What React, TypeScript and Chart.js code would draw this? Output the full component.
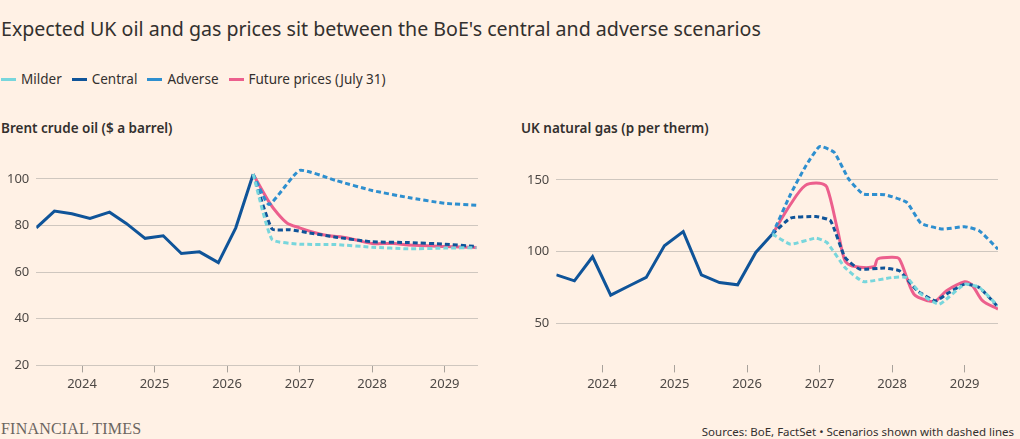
import React, { useEffect, useRef } from "react";
import { Chart, registerables } from "chart.js";
Chart.register(...registerables);

const yearTicks = [2024, 2025, 2026, 2027, 2028, 2029];

// Brent
const brentHistX = [2023.37, 2023.62, 2023.86, 2024.11, 2024.38, 2024.61, 2024.87, 2025.12, 2025.37, 2025.62, 2025.88, 2026.12, 2026.36];
const brentHistY = [79, 86.2, 85, 83, 85.7, 80.9, 74.5, 75.6, 68, 68.7, 64.1, 79, 102];
const brentFutX = [2026.36, 2026.58, 2026.7, 2026.83, 2027.0, 2027.2, 2027.4, 2027.6, 2027.75, 2028.0, 2028.3, 2028.5, 2029.0, 2029.44];
const brentFutY = [102, 90, 85, 81, 79, 77, 75.6, 75, 74, 72.3, 72.3, 71.6, 71, 70.6];
const brentAdvX = [2026.36, 2026.58, 2027.0, 2027.5, 2028.0, 2028.5, 2029.0, 2029.44];
const brentAdvY = [102, 89, 103.6, 99.3, 95, 92, 89.5, 88.7];
const brentCenX = [2026.36, 2026.62, 2026.87, 2027.1, 2027.5, 2028.0, 2028.5, 2029.0, 2029.44];
const brentCenY = [102, 78.5, 78.2, 77, 75, 73, 72.7, 72, 71];
const brentMilX = [2026.36, 2026.62, 2027.0, 2027.5, 2028.0, 2028.5, 2029.0, 2029.44];
const brentMilY = [102, 74, 72, 71.8, 70.7, 70, 70.3, 70.5];

// Gas
const gasHistX = [2023.37, 2023.62, 2023.87, 2024.12, 2024.37, 2024.61, 2024.86, 2025.12, 2025.37, 2025.62, 2025.87, 2026.12, 2026.35];
const gasHistY = [83.8, 79.6, 96.4, 69.6, 76, 82, 104, 113.9, 83.8, 78.4, 76.8, 99.4, 112.2];
const gasFutX = [2026.35, 2026.6, 2026.8, 2027.0, 2027.1, 2027.25, 2027.35, 2027.45, 2027.75, 2027.8, 2028.0, 2028.1, 2028.3, 2028.5, 2028.6, 2028.75, 2029.0, 2029.1, 2029.25, 2029.46];
const gasFutY = [112.2, 133, 146, 147.7, 145, 114.6, 93.6, 90, 89.4, 94.8, 96, 94.8, 70.3, 65.6, 65.6, 72.6, 78.9, 76.8, 65.6, 59.9];
const gasAdvX = [2026.35, 2026.6, 2026.8, 2027.0, 2027.2, 2027.4, 2027.6, 2027.9, 2028.2, 2028.4, 2028.7, 2029.0, 2029.2, 2029.46];
const gasAdvY = [112.2, 140, 158.9, 173.3, 169.3, 150.7, 140.2, 139.7, 134.4, 119.7, 115.7, 117.4, 114.6, 101.7];
const gasCenX = [2026.35, 2026.6, 2026.95, 2027.15, 2027.35, 2027.55, 2027.9, 2028.1, 2028.35, 2028.6, 2028.75, 2029.0, 2029.2, 2029.46];
const gasCenY = [112.2, 123.4, 124.4, 121.6, 96, 87.8, 88.5, 86.6, 72.6, 65.6, 70.3, 77.3, 75, 61.4];
const gasMilX = [2026.35, 2026.6, 2026.95, 2027.1, 2027.35, 2027.6, 2028.0, 2028.2, 2028.4, 2028.65, 2029.0, 2029.2, 2029.46];
const gasMilY = [112.2, 105.2, 109.4, 106.4, 88.9, 79.1, 81.9, 81.9, 70.3, 63.3, 77.3, 75, 62];

const C_MIL = "#78d6dc";
const C_CEN = "#0f5499";
const C_ADV = "#2e8fcf";
const C_FUT = "#ec5f8d";
const FONT = "'Noto Sans', sans-serif";
const TXT = "#4d4845";

const pts = (xs: number[], ys: number[]) => xs.map((x, i) => ({ x, y: ys[i] }));

function Panel({ d, yMin, yMax, yTicks }: any) {
  const ref = useRef<HTMLCanvasElement>(null);
  useEffect(() => {
    const dash = (label: string, data: any, color: string) => ({
      label, data, borderColor: color, borderWidth: 3, borderDash: [5, 3], pointRadius: 0, tension: 0.15, fill: false,
    });
    const chart = new Chart(ref.current!, {
      type: "line",
      data: {
        datasets: [
          dash("Milder", d.mil, C_MIL),
          dash("Adverse", d.adv, C_ADV),
          dash("Central", d.cen, C_CEN),
          { label: "Future", data: d.fut, borderColor: C_FUT, borderWidth: 3, pointRadius: 0, tension: 0.3 },
          { label: "Hist", data: d.hist, borderColor: C_CEN, borderWidth: 3, pointRadius: 0, tension: 0 },
        ],
      },
      options: {
        animation: false,
        responsive: false,
        maintainAspectRatio: false,
        layout: { padding: { top: 0, right: 2, left: 0, bottom: 0 } },
        plugins: { legend: { display: false }, tooltip: { enabled: false } },
        scales: {
          x: {
            type: "linear",
            min: 2023.37,
            max: 2029.46,
            afterBuildTicks: (ax: any) => { ax.ticks = yearTicks.map((v) => ({ value: v })); },
            grid: { drawOnChartArea: false, drawTicks: true, tickLength: 7, color: "#a8a29b", offset: false },
            border: { display: false },
            ticks: { color: TXT, font: { family: FONT, size: 13 }, padding: 4, callback: (v: any) => String(v), maxRotation: 0 },
          },
          y: {
            min: yMin,
            max: yMax,
            afterBuildTicks: (ax: any) => { ax.ticks = yTicks.map((v: number) => ({ value: v })); },
            grid: { color: "#cfc7bf", drawTicks: false },
            border: { display: false },
            ticks: { color: TXT, font: { family: FONT, size: 13 }, padding: 7 },
          },
        },
      },
    });
    return () => chart.destroy();
  }, []);
  return <canvas ref={ref} width={480} height={266} style={{ width: 480, height: 266 }} />;
}

export default function App() {
  const legend = [
    ["Milder", C_MIL],
    ["Central", C_CEN],
    ["Adverse", C_ADV],
    ["Future prices (July 31)", C_FUT],
  ];
  return (
    <div style={{ position: "absolute", left: 0, top: 0, width: 1020, height: 439, background: "#fff1e5", fontFamily: FONT, color: "#33302e", overflow: "hidden" }}>
      <div style={{ position: "absolute", left: 1, top: 15, fontSize: 19.6 }}>
        Expected UK oil and gas prices sit between the BoE's central and adverse scenarios
      </div>
      <div style={{ position: "absolute", left: 1, top: 70, display: "flex", fontSize: 13.5, color: "#33302e" }}>
        {legend.map(([l, c]) => (
          <div key={l} style={{ display: "flex", alignItems: "center", marginRight: 10 }}>
            <span style={{ display: "inline-block", width: 15, height: 3, background: c, marginRight: 5 }} />
            {l}
          </div>
        ))}
      </div>
      <div style={{ position: "absolute", left: 1, top: 119, fontSize: 13.5, fontWeight: 600 }}>Brent crude oil ($ a barrel)</div>
      <div style={{ position: "absolute", left: 521, top: 119, fontSize: 13.5, fontWeight: 600 }}>UK natural gas (p per therm)</div>
      <div style={{ position: "absolute", left: 0, top: 130 }}>
        <Panel
          d={{ hist: pts(brentHistX, brentHistY), fut: pts(brentFutX, brentFutY), adv: pts(brentAdvX, brentAdvY), cen: pts(brentCenX, brentCenY), mil: pts(brentMilX, brentMilY) }}
          yMin={20}
          yMax={114.6}
          yTicks={[20, 40, 60, 80, 100]}
        />
      </div>
      <div style={{ position: "absolute", left: 520, top: 130 }}>
        <Panel
          d={{ hist: pts(gasHistX, gasHistY), fut: pts(gasFutX, gasFutY), adv: pts(gasAdvX, gasAdvY), cen: pts(gasCenX, gasCenY), mil: pts(gasMilX, gasMilY) }}
          yMin={20.6}
          yMax={174.5}
          yTicks={[50, 100, 150]}
        />
      </div>
      <div style={{ position: "absolute", left: 1, top: 420, fontFamily: "'Liberation Serif', serif", fontSize: 16, color: "#6b6560", letterSpacing: 0.2 }}>FINANCIAL TIMES</div>
      <div style={{ position: "absolute", right: 6, top: 424, fontSize: 11.5, color: "#33302e" }}>Sources: BoE, FactSet • Scenarios shown with dashed lines</div>
    </div>
  );
}
